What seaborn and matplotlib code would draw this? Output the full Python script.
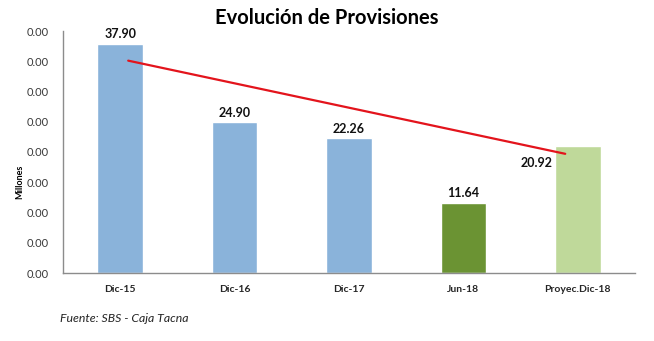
import matplotlib
matplotlib.use("Agg")
import matplotlib.pyplot as plt
import seaborn as sns
import pandas as pd

categories = ["Dic-15", "Dic-16", "Dic-17", "Jun-18", "Proyec.Dic-18"]
values = [37.90, 24.90, 22.26, 11.64, 20.92]
bar_colors = ["#8AB3DA", "#8AB3DA", "#8AB3DA", "#6B9333", "#BFD99A"]
ytick_values = [0, 5, 10, 15, 20, 25, 30, 35, 40]
ytick_labels = ["0.00"] * 9
# hand-drawn red line endpoints (category position, value)
line_x = [0.07, 3.89]
line_y = [35.1, 19.7]

sns.set_theme(style="white")
plt.rcParams["font.family"] = ["Lato", "DejaVu Sans"]

df = pd.DataFrame({"cat": categories, "val": values})

fig = plt.figure(figsize=(6.54, 3.41), dpi=100)
ax = fig.add_axes([63/654, (341-273)/341, (635-63)/654, (273-31)/341])

sns.barplot(data=df, x="cat", y="val", hue="cat", palette=bar_colors,
            width=0.4, legend=False, ax=ax, saturation=1)
sns.lineplot(x=line_x, y=line_y, color="#E3141C", linewidth=1.6, ax=ax)

ax.set_xlim(-0.5, 4.5)
ax.set_ylim(0, 40)
ax.set_yticks(ytick_values)
ax.set_yticklabels(ytick_labels, fontsize=8, color="#3a3a3a")
ax.tick_params(axis="y", length=0, pad=10)
ax.tick_params(axis="x", length=0, pad=9)
for lbl in ax.get_xticklabels():
    lbl.set_fontsize(7.5)
    lbl.set_fontweight("bold")
ax.set_xlabel("")
ax.set_ylabel("")

for s in ["top", "right"]:
    ax.spines[s].set_visible(False)
for s in ["left", "bottom"]:
    ax.spines[s].set_color("#8c8c8c")
    ax.spines[s].set_linewidth(1.0)

for i, v in enumerate(values):
    if i == len(values) - 1:
        ax.text(i - 0.36, v - 2.7, f"{v:.2f}", ha="center", va="center",
                fontsize=9, fontweight="bold", color="#111111")
    else:
        ax.text(i, v + 1.6, f"{v:.2f}", ha="center", va="center",
                fontsize=9, fontweight="bold", color="#111111")

fig.text(327/654, 1 - 18/341, "Evolución de Provisiones", ha="center", va="center",
         fontsize=14.5, fontweight="bold", color="#000000")
fig.text(20/654, 1 - 182/341, "Millones", ha="center", va="center",
         rotation=90, fontsize=6.5, fontweight="bold", color="#000000")
fig.text(60/654, 1 - 318/341, "Fuente: SBS - Caja Tacna", ha="left", va="center",
         fontsize=8.8, fontstyle="italic", color="#222222")

fig.savefig("out.png", dpi=100)
